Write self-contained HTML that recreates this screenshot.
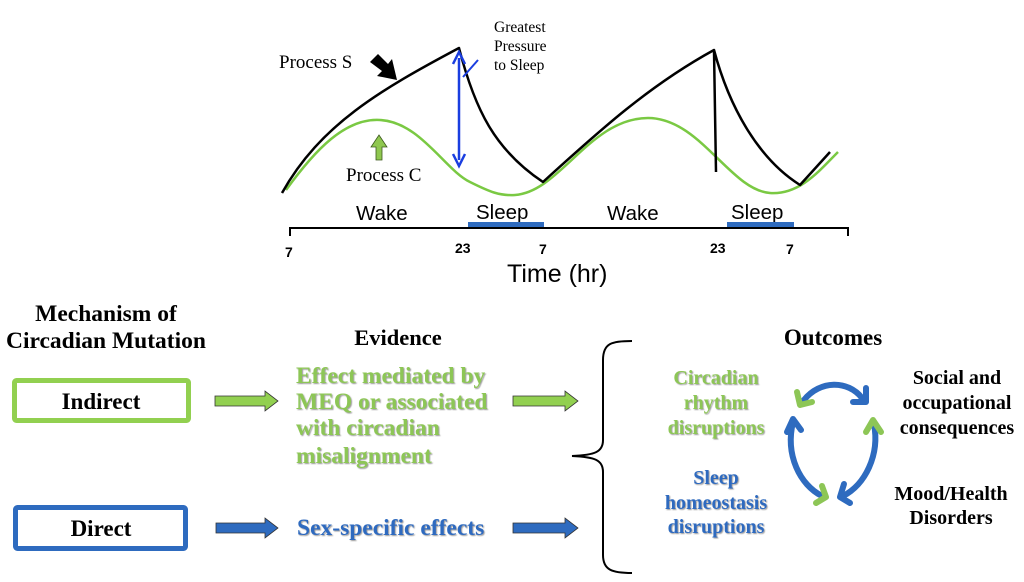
<!DOCTYPE html>
<html><head><meta charset="utf-8"><style>
body{margin:0;background:#fff;}
svg{display:block}
.s{font-family:"Liberation Serif",serif}
.a{font-family:"Liberation Sans",sans-serif}
.b{font-weight:bold}
</style></head><body>
<svg width="1024" height="582" viewBox="0 0 1024 582" xmlns="http://www.w3.org/2000/svg">
<defs>
<filter id="sh"><feDropShadow dx="1" dy="1" stdDeviation="0.6" flood-color="#555" flood-opacity="0.6"/></filter>
</defs>
<!-- graph -->
<path d="M286,190 C315,150 345,118 380,120 C420,122 445,170 470,182 C490,192 500,196 515,195 C560,192 590,118 648,118 C700,118 730,190 770,193 C800,195 820,170 838,152" fill="none" stroke="#7ac943" stroke-width="2.5"/>
<path d="M282,193 C320,125 380,90 459,48 C475,110 495,150 543,182 C600,130 650,85 714,50 L716,172 M714,50 C730,110 760,160 800,185 L830,152" fill="none" stroke="#000" stroke-width="2.5" stroke-linejoin="round"/>
<line x1="459" y1="58" x2="459" y2="160" stroke="#1a3ee0" stroke-width="2.5"/>
<path d="M453,64 L459,52 L465,64 M453,154 L459,166 L465,154" fill="none" stroke="#1a3ee0" stroke-width="2.5"/>
<line x1="463" y1="77" x2="478" y2="60" stroke="#1a3ee0" stroke-width="2"/>
<text class="s" x="494" y="32" font-size="15.5">Greatest</text>
<text class="s" x="494" y="51" font-size="15.5">Pressure</text>
<text class="s" x="494" y="70" font-size="15.5">to Sleep</text>
<text class="s" x="279" y="68" font-size="19">Process S</text>
<polygon points="370,62 378,54 388,64 392,59 397,80 377,76 382,71" fill="#000"/>
<polygon points="379,135 387,147 382,147 382,160 376,160 376,147 371,147" fill="#8fc74f" stroke="#3d5a1e" stroke-width="0.8"/>
<text class="s" x="346" y="181" font-size="19">Process C</text>
<text class="a" x="356" y="220" font-size="20.5">Wake</text>
<text class="a" x="476" y="219" font-size="20.5">Sleep</text>
<text class="a" x="607" y="220" font-size="20.5">Wake</text>
<text class="a" x="731" y="219" font-size="20.5">Sleep</text>
<rect x="468" y="222" width="76" height="7" fill="#2e6bbf"/>
<rect x="727" y="222" width="67" height="7" fill="#2e6bbf"/>
<path d="M290,236 L290,228 L848,228 L848,236" fill="none" stroke="#000" stroke-width="2"/>
<text class="a b" x="285" y="257" font-size="14">7</text>
<text class="a b" x="455" y="253" font-size="14">23</text>
<text class="a b" x="539" y="254" font-size="14">7</text>
<text class="a b" x="710" y="253" font-size="14">23</text>
<text class="a b" x="786" y="254" font-size="14">7</text>
<text class="a" x="507" y="282" font-size="25">Time (hr)</text>
<!-- bottom -->
<text class="s b" x="106" y="321" font-size="23.5" text-anchor="middle">Mechanism of</text>
<text class="s b" x="106" y="348" font-size="23.5" text-anchor="middle">Circadian Mutation</text>
<text class="s b" x="398" y="345" font-size="22.5" text-anchor="middle">Evidence</text>
<rect x="14.5" y="380.5" width="174" height="40" fill="#fff" stroke="#92d050" stroke-width="5" rx="2"/>
<text class="s b" x="101" y="409" font-size="23" text-anchor="middle">Indirect</text>
<rect x="15.5" y="507.5" width="170" height="41" fill="#fff" stroke="#2e6bbf" stroke-width="5" rx="2"/>
<text class="s b" x="101" y="536" font-size="23" text-anchor="middle">Direct</text>
<g stroke="#333" stroke-width="0.8">
<polygon points="215,396 265,396 265,391 278,401 265,411 265,406 215,406" fill="#92d050"/>
<polygon points="513,396 565,396 565,391 578,401 565,411 565,406 513,406" fill="#92d050"/>
<polygon points="216,523 265,523 265,518 278,528 265,538 265,533 216,533" fill="#2e6bbf"/>
<polygon points="513,523 565,523 565,518 578,528 565,538 565,533 513,533" fill="#2e6bbf"/>
</g>
<g class="s b" font-size="23.5" fill="#8dc656" filter="url(#sh)">
<text x="296" y="383">Effect mediated by</text>
<text x="296" y="409">MEQ or associated</text>
<text x="296" y="435">with circadian</text>
<text x="296" y="463">misalignment</text>
</g>
<text class="s b" x="297" y="535" font-size="23.5" fill="#2e6bbf" filter="url(#sh)">Sex-specific effects</text>
<path d="M632,341 C612,341 603,343 603,360 L603,440 C603,452 595,455 572,456 C595,457 603,460 603,472 L603,555 C603,570 612,573 632,573" fill="none" stroke="#000" stroke-width="2"/>
<text class="s b" x="833" y="345" font-size="23" text-anchor="middle">Outcomes</text>
<g class="s b" font-size="20" text-anchor="middle" filter="url(#sh)">
<text x="716" y="384" fill="#8dc656">Circadian</text>
<text x="716" y="409" fill="#8dc656">rhythm</text>
<text x="716" y="434" fill="#8dc656">disruptions</text>
<text x="716" y="484" fill="#2e6bbf">Sleep</text>
<text x="716" y="509" fill="#2e6bbf">homeostasis</text>
<text x="716" y="533" fill="#2e6bbf">disruptions</text>
</g>
<g class="s b" font-size="20" text-anchor="middle">
<text x="957" y="384">Social and</text>
<text x="957" y="409">occupational</text>
<text x="957" y="434">consequences</text>
<text x="951" y="500">Mood/Health</text>
<text x="951" y="524">Disorders</text>
</g>
<g fill="none" stroke-width="6" stroke-linecap="round" stroke-linejoin="round">
<path d="M804,400 C820,380 848,380 862,398" stroke="#2e6bbf"/>
<path d="M797,392 L800,405 L812,402" stroke="#8dc656"/>
<path d="M866,388 L866,402 L853,402" stroke="#2e6bbf"/>
<path d="M793,422 C785,455 800,485 822,496" stroke="#2e6bbf"/>
<path d="M787,432 L793,419 L801,430" stroke="#2e6bbf"/>
<path d="M822,486 L826,497 L816,503" stroke="#8dc656"/>
<path d="M874,424 C880,455 865,485 843,496" stroke="#2e6bbf"/>
<path d="M866,432 L873,420 L881,432" stroke="#8dc656"/>
<path d="M844,484 L840,497 L850,503" stroke="#2e6bbf"/>
</g>
</svg>
</body></html>
